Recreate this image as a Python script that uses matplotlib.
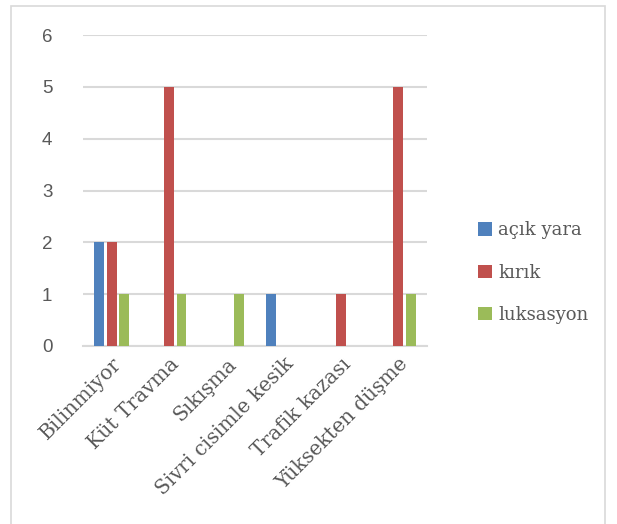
import numpy as np
import matplotlib
matplotlib.use("Agg")
import matplotlib.pyplot as plt
from matplotlib.patches import Rectangle

categories = ["Bilinmiyor", "Küt Travma", "Sıkışma", "Sivri cisimle kesik",
              "Trafik kazası", "Yüksekten düşme"]
acik_yara = [2, 0, 0, 1, 0, 0]
kirik = [2, 5, 0, 0, 1, 5]
luksasyon = [1, 1, 1, 0, 0, 1]
series_names = ["açık yara", "kırık", "luksasyon"]
y_ticks = [0, 1, 2, 3, 4, 5, 6]

colors = ["#4F81BD", "#C0504D", "#9BBB59"]
grid_color = "#D9D9D9"
text_color = "#595959"

fig = plt.figure(figsize=(6.17, 5.24), dpi=100)
ax = fig.add_axes([83 / 617, 1 - 346 / 524, (427 - 83) / 617, (346 - 35) / 524])

x = np.arange(len(categories))
width = 0.17
offset = 0.218
for i, (vals, name) in enumerate(zip([acik_yara, kirik, luksasyon], series_names)):
    ax.bar(x + (i - 1) * offset, vals, width, color=colors[i], label=name, zorder=3)

ax.set_xlim(-0.5, len(categories) - 0.5)
ax.set_ylim(0, 6)
ax.set_yticks(y_ticks)
ax.set_yticklabels([str(t) for t in y_ticks], fontsize=13.5,
                   family="Liberation Sans", color=text_color)
ax.set_xticks(x)
ax.set_xticklabels(categories, rotation=45, ha="right", rotation_mode="anchor",
                   fontsize=14.5, family="DejaVu Serif", color=text_color)
ax.tick_params(axis="both", length=0)
ax.tick_params(axis="y", pad=22)
ax.tick_params(axis="x", pad=6)

ax.grid(axis="y", color=grid_color, linewidth=1.5, zorder=0)
for s in ["top", "right", "left"]:
    ax.spines[s].set_visible(False)
ax.spines["bottom"].set_color(grid_color)
ax.spines["bottom"].set_linewidth(1.5)

leg = fig.legend(loc="upper left", bbox_to_anchor=(462 / 617, 1 - 205 / 524),
                 frameon=False, prop={"family": "DejaVu Serif", "size": 13},
                 handlelength=0.75, handleheight=0.75, handletextpad=0.35,
                 labelspacing=1.35)
for t in leg.get_texts():
    t.set_color(text_color)

fig.patches.append(Rectangle((11 / 617, -0.01), (605 - 11) / 617, 1.01 - 6 / 524,
                             transform=fig.transFigure, fill=False,
                             edgecolor=grid_color, linewidth=1.2))

fig.savefig("out.png", dpi=100)
